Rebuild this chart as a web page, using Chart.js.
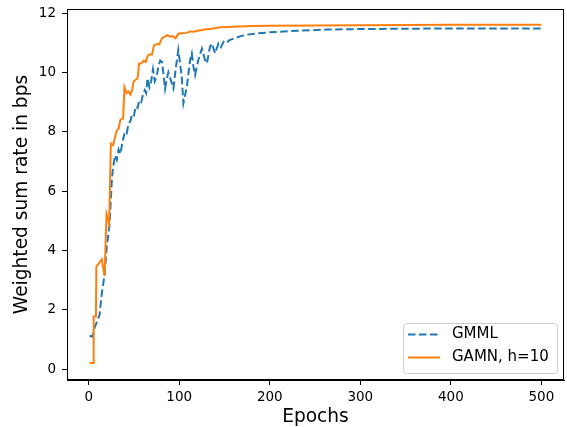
<!DOCTYPE html>
<html>
<head>
<meta charset="utf-8">
<title>Weighted sum rate</title>
<script src="https://cdn.jsdelivr.net/npm/chart.js@4/dist/chart.umd.min.js"></script>
<style>
	html, body { margin: 0; padding: 0; background: #fff; }
	#wrap { width: 567px; height: 427px; }
</style>
</head>
<body>
<div id="wrap"><canvas id="chart" width="567" height="427"></canvas></div>
<script>
// values
const gmmlEpochs = [1, 4, 7, 12, 14.5, 17.5, 20, 23, 25.6, 27, 29, 31, 33, 35, 37, 40, 42, 44, 46, 48, 50, 52, 54, 56, 58, 60, 62, 63.5, 65, 67, 69, 71, 73, 75, 77, 79, 81, 84.4, 86, 88, 90, 93.6, 96, 99, 102.8, 104.6, 108.4, 112, 113.9, 115.7, 117.5, 121, 125, 128.6, 130.5, 134, 136, 139.6, 143.3, 146, 149, 152, 155, 160, 168, 175, 185, 200, 230, 263, 300, 400, 500];
const gmmlRate = [1.12, 1.09, 1.43, 1.82, 2.55, 3.17, 4.12, 4.85, 6.4, 6.8, 7.2, 7.05, 7.4, 7.25, 7.6, 8.0, 7.95, 8.27, 8.35, 8.6, 8.55, 8.85, 8.8, 9.05, 9.0, 9.25, 9.4, 9.3, 9.8, 9.5, 9.7, 10.1, 9.7, 9.85, 10.2, 10.4, 10.35, 9.45, 9.75, 10.0, 9.8, 9.46, 10.1, 10.75, 9.85, 8.96, 9.51, 10.41, 10.64, 10.19, 9.91, 10.41, 10.8, 10.41, 10.3, 10.86, 10.97, 10.64, 10.97, 10.85, 11.03, 10.98, 11.08, 11.14, 11.22, 11.27, 11.31, 11.35, 11.4, 11.44, 11.46, 11.48, 11.48];

const gamnEpochs = [1, 5, 5.5, 8, 8.5, 11, 14.5, 17.5, 19.7, 22.6, 24.5, 27, 29, 31, 33, 35, 38, 39.5, 42, 44, 46, 48, 49.5, 52, 54, 55.7, 58, 61, 63, 65, 67, 70, 72, 75, 78, 81, 84, 87, 90, 93, 96, 99, 103, 108, 112, 116, 120, 125, 130, 136, 145, 160, 180, 200, 250, 300, 400, 500];
const gamnRate = [0.2, 0.2, 1.77, 1.77, 3.46, 3.55, 3.7, 3.14, 5.22, 4.9, 7.6, 7.55, 7.8, 8.05, 8.1, 8.4, 8.45, 9.5, 9.3, 9.35, 9.25, 9.4, 9.7, 9.75, 9.8, 10.3, 10.3, 10.4, 10.35, 10.55, 10.6, 10.6, 10.9, 10.95, 10.95, 11.15, 11.2, 11.25, 11.2, 11.22, 11.15, 11.3, 11.32, 11.33, 11.38, 11.37, 11.4, 11.43, 11.45, 11.47, 11.52, 11.54, 11.56, 11.57, 11.58, 11.59, 11.6, 11.6];

const seriesNames = ['GMML', 'GAMN, h=10'];
const xTicks = [0, 100, 200, 300, 400, 500];
const yTicks = [0, 2, 4, 6, 8, 10, 12];

const blue = '#1f77b4';
const orange = '#ff7f0e';
const font = 'DejaVu Sans';

function toPoints(xs, ys) {
	return xs.map((x, i) => ({ x, y: ys[i] }));
}

// box round the plot, like matplotlib spines
const frame = {
	id: 'frame',
	afterDraw(chart) {
		const { ctx, chartArea: a } = chart;
		ctx.save();
		ctx.strokeStyle = '#000';
		ctx.lineWidth = 1;
		ctx.strokeRect(a.left + 0.5, a.top + 0.5, a.right - a.left - 1, a.bottom - a.top - 1);
		ctx.restore();
	},
};

// legend inside the plot, lower right
const innerLegend = {
	id: 'innerLegend',
	afterDraw(chart) {
		const { ctx } = chart;
		const x0 = 403;
		const y0 = 323;
		const w = 154;
		const h = 50;
		ctx.save();
		ctx.fillStyle = 'rgba(255,255,255,0.8)';
		ctx.strokeStyle = '#cccccc';
		ctx.lineWidth = 1;
		ctx.beginPath();
		ctx.roundRect(x0 + 0.5, y0 + 0.5, w, h, 3);
		ctx.fill();
		ctx.stroke();

		const rows = [
			{ label: seriesNames[0], color: blue, dash: [7.5, 3.5], y: 334.5 },
			{ label: seriesNames[1], color: orange, dash: [], y: 357.5 },
		];
		rows.forEach((r) => {
			ctx.strokeStyle = r.color;
			ctx.lineWidth = 2;
			ctx.setLineDash(r.dash);
			ctx.beginPath();
			ctx.moveTo(408, r.y);
			ctx.lineTo(440, r.y);
			ctx.stroke();
			ctx.setLineDash([]);
			ctx.fillStyle = '#000';
			ctx.font = `15px "${font}"`;
			ctx.textBaseline = 'middle';
			ctx.fillText(r.label, 452, r.y);
		});
		ctx.restore();
	},
};

new Chart(document.getElementById('chart').getContext('2d'), {
	type: 'line',
	data: {
		datasets: [
			{
				label: seriesNames[0],
				data: toPoints(gmmlEpochs, gmmlRate),
				borderColor: blue,
				borderWidth: 2,
				borderDash: [7.5, 3.5],
				pointRadius: 0,
				tension: 0,
				order: 1,
			},
			{
				label: seriesNames[1],
				data: toPoints(gamnEpochs, gamnRate),
				borderColor: orange,
				borderWidth: 2,
				pointRadius: 0,
				tension: 0,
				order: 0,
			},
		],
	},
	options: {
		responsive: false,
		animation: false,
		layout: { padding: { top: 9, right: 3, left: 0, bottom: 0 } },
		plugins: {
			legend: { display: false },
			tooltip: { enabled: false },
		},
		scales: {
			x: {
				type: 'linear',
				min: -23.95,
				max: 524.95,
				afterFit: (s) => {
					s.height = 47;
					s.paddingLeft = 0;
					s.paddingRight = 0;
				},
				afterBuildTicks: (s) => { s.ticks = xTicks.map(v => ({ value: v })); },
				grid: { display: true, drawOnChartArea: false, drawTicks: true, tickLength: 5, color: '#000', tickWidth: 1 },
				border: { display: true, color: '#000', width: 1 },
				ticks: { color: '#000', padding: 4, font: { family: font, size: 13.5 }, includeBounds: false },
				title: { display: true, text: 'Epochs', color: '#000', font: { family: font, size: 18.6, lineHeight: 1 }, padding: { top: 0, bottom: 1 } },
			},
			y: {
				type: 'linear',
				min: -0.37,
				max: 12.135,
				afterFit: (s) => {
					s.width = 67;
					s.paddingTop = 0;
					s.paddingBottom = 0;
				},
				afterBuildTicks: (s) => { s.ticks = yTicks.map(v => ({ value: v })); },
				grid: { display: true, drawOnChartArea: false, drawTicks: true, tickLength: 5, color: '#000', tickWidth: 1 },
				border: { display: true, color: '#000', width: 1 },
				ticks: { color: '#000', padding: 6, font: { family: font, size: 13.5 }, includeBounds: false },
				title: { display: true, text: 'Weighted sum rate in bps', color: '#000', font: { family: font, size: 18.6, lineHeight: 1 }, padding: { top: 13, bottom: 0 } },
			},
		},
	},
	plugins: [frame, innerLegend],
});
</script>
</body>
</html>
